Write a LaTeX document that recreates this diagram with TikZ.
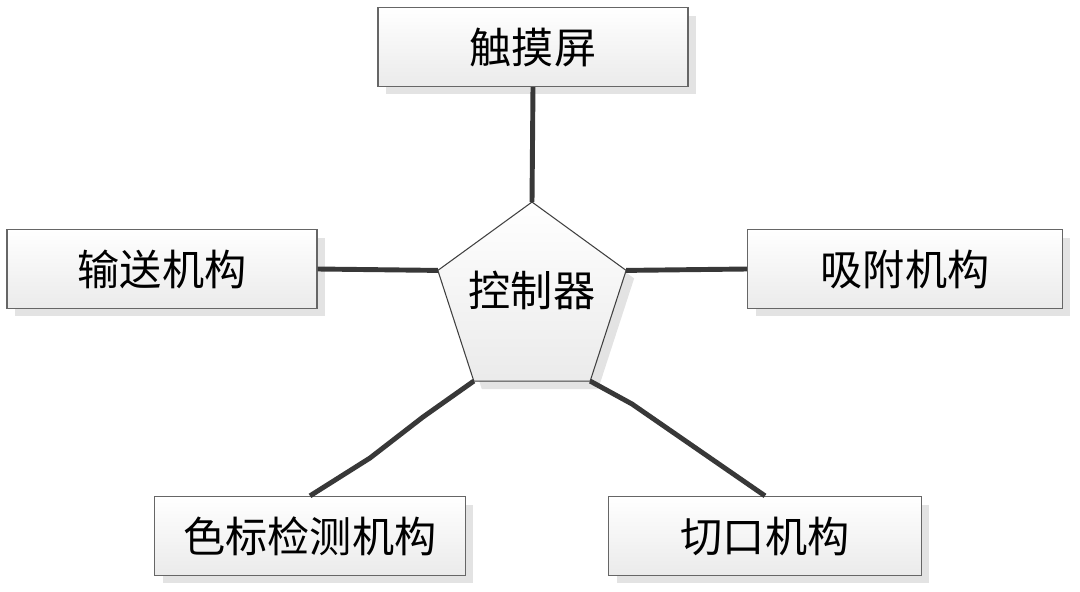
\documentclass[tikz,border=0pt]{standalone}
\usepackage{fontspec}
\newfontfamily\cjk{Noto Sans CJK SC}
\usetikzlibrary{shapes.geometric,shadows,positioning}

\begin{document}
\begin{tikzpicture}[x=0.02cm, y=-0.02cm]
    \tikzstyle{unit} = [rectangle, draw=black!60, line width=0.75pt, top color=white, bottom color=black!8, minimum width=6.2cm, minimum height=1.58cm, font=\cjk\fontsize{24}{28}\selectfont, drop shadow={shadow xshift=0.16cm, shadow yshift=-0.16cm, fill=black!11, opacity=1}]
    \tikzstyle{hub} = [regular polygon, regular polygon sides=5, minimum size=3.96cm, inner sep=0pt, outer sep=0pt, draw=black!75, line width=0.6pt, top color=white, bottom color=black!8, drop shadow={shadow xshift=0.16cm, shadow yshift=-0.16cm, fill=black!11, opacity=1}]
    \tikzstyle{link} = [line width=2.8pt, draw=black!78]

    \useasboundingbox (0,0) rectangle (1080,592);

    \node [unit] (touch) at (533,47) {触摸屏};
    \node [unit] (convey) at (162,269) {输送机构};
    \node [unit, minimum width=6.3cm] (suction) at (905,269) {吸附机构};
    \node [unit, minimum width=6.22cm] (mark) at (310,536) {色标检测机构};
    \node [unit, minimum width=6.26cm] (cut) at (765,536) {切口机构};

    \node [hub] (ctrl) at (532,301) {};
    \node [font=\cjk\fontsize{24}{28}\selectfont] (ctrltext) at (532,290) {控制器};

    % bends of the two lower links
    \coordinate (mk1) at (423,417);
    \coordinate (mk2) at (370,458);
    \coordinate (ct1) at (632,404);

    \draw [link] (touch.south) -- (ctrl.corner 1);
    \draw [link] (convey.east) -- (ctrl.corner 2);
    \draw [link] (ctrl.corner 5) -- (suction.west);
    \draw [link] (ctrl.corner 3) -- (mk1) -- (mk2) -- (mark.north);
    \draw [link] (ctrl.corner 4) -- (ct1) -- (cut.north);
\end{tikzpicture}
\end{document}
